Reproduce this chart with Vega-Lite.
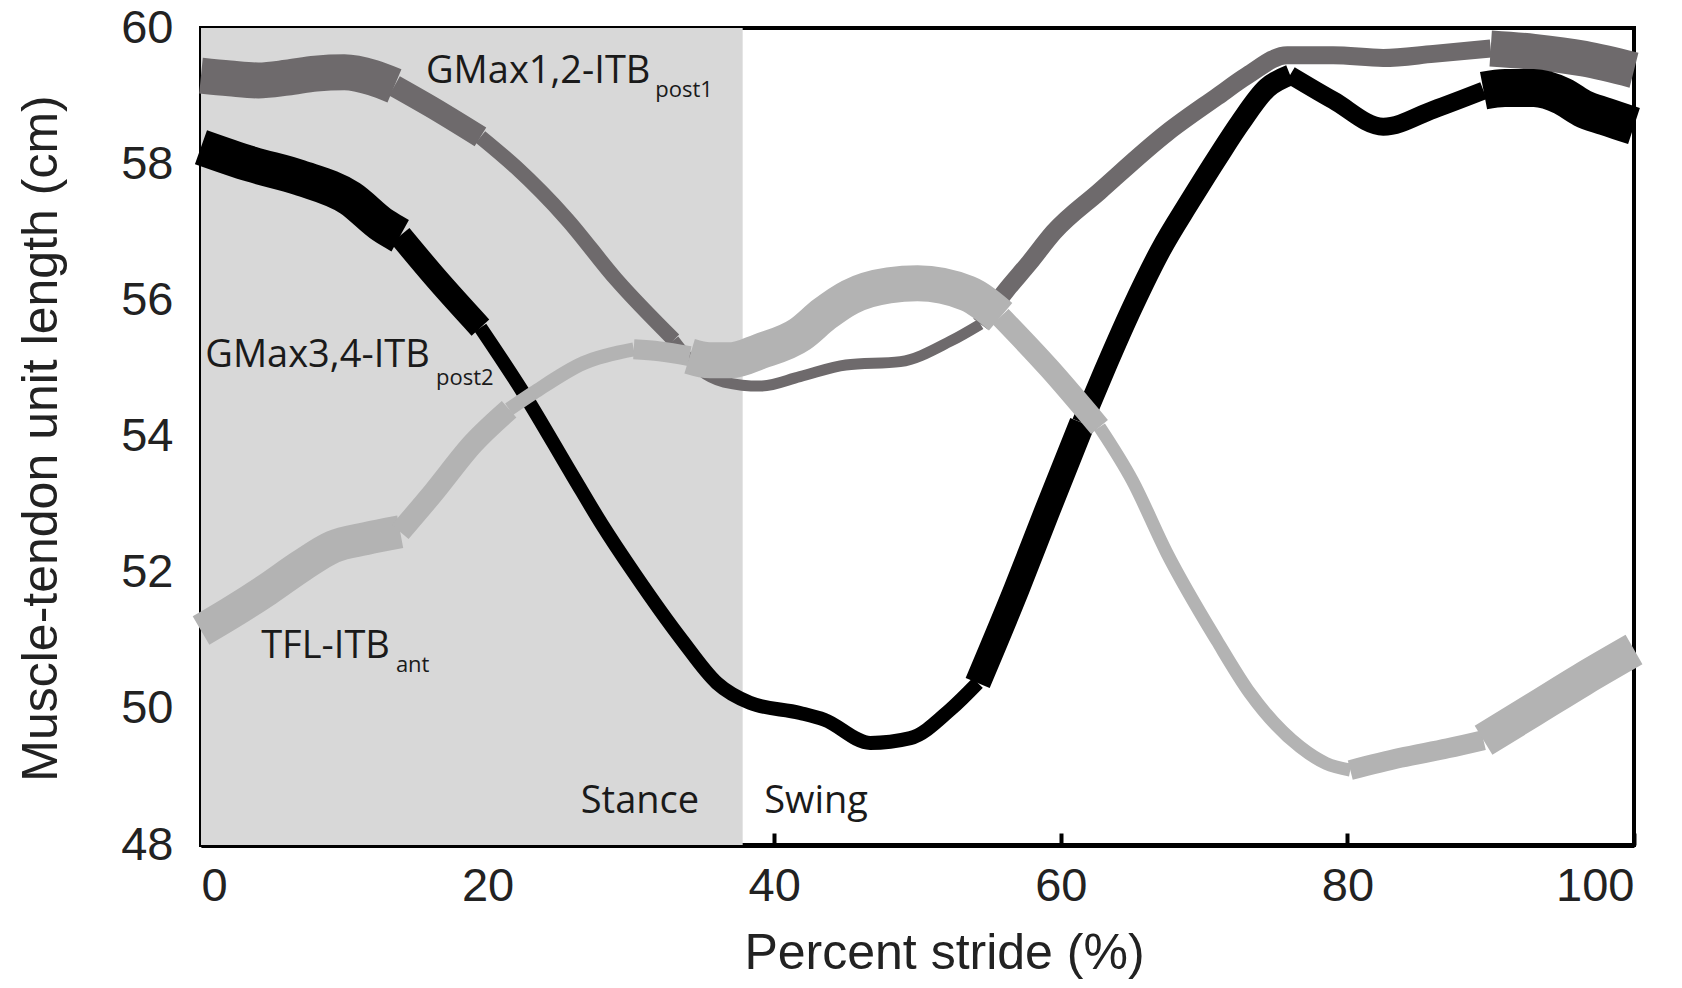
{
  "$schema": "https://vega.github.io/schema/vega-lite/v6.json",
  "autosize": {"type": "none"},
  "width": 1433,
  "height": 817,
  "padding": {"left": 201, "top": 28, "right": 48, "bottom": 143},
  "background": "white",
  "config": {
    "view": {"stroke": "black", "strokeWidth": 4},
    "axis": {
      "grid": false,
      "domainColor": "black",
      "domainWidth": 5,
      "tickColor": "black",
      "tickWidth": 4,
      "tickSize": -12,
      "labelFont": "Liberation Sans",
      "labelFontSize": 47,
      "labelColor": "#222222",
      "titleFont": "Liberation Sans",
      "titleFontSize": 50,
      "titleFontWeight": "normal",
      "titleColor": "#222222"
    }
  },
  "datasets": {
    "shade": [{"x0": 0, "x1": 37.8, "y0": 48, "y1": 60}],
    "A": [
      {"seg": "A1", "x": 0, "y": 59.3, "w": 36},
      {"seg": "A1", "x": 2, "y": 59.26, "w": 36},
      {"seg": "A1", "x": 4, "y": 59.23, "w": 36},
      {"seg": "A1", "x": 6, "y": 59.27, "w": 36},
      {"seg": "A1", "x": 8, "y": 59.33, "w": 36},
      {"seg": "A1", "x": 10, "y": 59.35, "w": 36},
      {"seg": "A1", "x": 12, "y": 59.27, "w": 36},
      {"seg": "A1", "x": 13.5, "y": 59.15, "w": 36},
      {"seg": "A2", "x": 13.5, "y": 59.15, "w": 22},
      {"seg": "A2", "x": 16, "y": 58.85, "w": 22},
      {"seg": "A2", "x": 19.5, "y": 58.4, "w": 22},
      {"seg": "A3", "x": 19.5, "y": 58.4, "w": 15},
      {"seg": "A3", "x": 22, "y": 57.95, "w": 15},
      {"seg": "A3", "x": 25.5, "y": 57.2, "w": 15},
      {"seg": "A3", "x": 29, "y": 56.3, "w": 15},
      {"seg": "A3", "x": 33, "y": 55.42, "w": 15},
      {"seg": "A4", "x": 33, "y": 55.42, "w": 11},
      {"seg": "A4", "x": 34.8, "y": 54.98, "w": 11},
      {"seg": "A4", "x": 36.5, "y": 54.8, "w": 11},
      {"seg": "A4", "x": 39, "y": 54.74, "w": 11},
      {"seg": "A4", "x": 41.8, "y": 54.88, "w": 11},
      {"seg": "A4", "x": 45, "y": 55.05, "w": 11},
      {"seg": "A4", "x": 48.8, "y": 55.1, "w": 11},
      {"seg": "A4", "x": 52.3, "y": 55.4, "w": 11},
      {"seg": "A4", "x": 54.4, "y": 55.65, "w": 11},
      {"seg": "A5", "x": 54.4, "y": 55.65, "w": 18},
      {"seg": "A5", "x": 56.2, "y": 56.15, "w": 18},
      {"seg": "A5", "x": 57.8, "y": 56.55, "w": 18},
      {"seg": "A5", "x": 59.5, "y": 57.0, "w": 18},
      {"seg": "A5", "x": 62.7, "y": 57.6, "w": 18},
      {"seg": "A5", "x": 67.4, "y": 58.46, "w": 18},
      {"seg": "A5", "x": 70.9, "y": 58.99, "w": 18},
      {"seg": "A5", "x": 73, "y": 59.3, "w": 18},
      {"seg": "A5", "x": 75.8, "y": 59.6, "w": 18},
      {"seg": "A5", "x": 79, "y": 59.6, "w": 18},
      {"seg": "A5", "x": 82.5, "y": 59.56, "w": 18},
      {"seg": "A5", "x": 86, "y": 59.62, "w": 18},
      {"seg": "A5", "x": 90, "y": 59.7, "w": 18},
      {"seg": "A6", "x": 90, "y": 59.7, "w": 36},
      {"seg": "A6", "x": 93, "y": 59.65, "w": 36},
      {"seg": "A6", "x": 96.5, "y": 59.55, "w": 36},
      {"seg": "A6", "x": 100, "y": 59.38, "w": 36}
    ],
    "B": [
      {"seg": "B1", "x": 0, "y": 58.25, "w": 36},
      {"seg": "B1", "x": 3.5, "y": 58.0, "w": 36},
      {"seg": "B1", "x": 6.9, "y": 57.8, "w": 36},
      {"seg": "B1", "x": 10.4, "y": 57.5, "w": 36},
      {"seg": "B1", "x": 12.7, "y": 57.1, "w": 36},
      {"seg": "B1", "x": 13.9, "y": 56.95, "w": 36},
      {"seg": "B2", "x": 13.9, "y": 56.95, "w": 24},
      {"seg": "B2", "x": 16.5, "y": 56.3, "w": 24},
      {"seg": "B2", "x": 19.5, "y": 55.6, "w": 24},
      {"seg": "B3", "x": 19.5, "y": 55.6, "w": 14},
      {"seg": "B3", "x": 22.5, "y": 54.64, "w": 14},
      {"seg": "B3", "x": 26, "y": 53.4, "w": 14},
      {"seg": "B3", "x": 28, "y": 52.7, "w": 14},
      {"seg": "B3", "x": 30.2, "y": 52.0, "w": 14},
      {"seg": "B3", "x": 33.6, "y": 51.0, "w": 14},
      {"seg": "B3", "x": 36, "y": 50.38, "w": 14},
      {"seg": "B3", "x": 38.3, "y": 50.09, "w": 14},
      {"seg": "B3", "x": 41.8, "y": 49.94, "w": 14},
      {"seg": "B3", "x": 43.5, "y": 49.84, "w": 14},
      {"seg": "B3", "x": 46.7, "y": 49.5, "w": 14},
      {"seg": "B3", "x": 49.5, "y": 49.57, "w": 14},
      {"seg": "B3", "x": 52.3, "y": 49.99, "w": 14},
      {"seg": "B3", "x": 54.2, "y": 50.38, "w": 14},
      {"seg": "B4", "x": 54.2, "y": 50.38, "w": 26},
      {"seg": "B4", "x": 56.9, "y": 51.75, "w": 26},
      {"seg": "B4", "x": 59, "y": 52.88, "w": 26},
      {"seg": "B4", "x": 61.5, "y": 54.2, "w": 26},
      {"seg": "B5", "x": 61.5, "y": 54.2, "w": 21},
      {"seg": "B5", "x": 63, "y": 54.95, "w": 21},
      {"seg": "B5", "x": 65, "y": 55.9, "w": 21},
      {"seg": "B5", "x": 67, "y": 56.75, "w": 21},
      {"seg": "B5", "x": 69, "y": 57.45, "w": 21},
      {"seg": "B5", "x": 71, "y": 58.12, "w": 21},
      {"seg": "B5", "x": 72.5, "y": 58.6, "w": 21},
      {"seg": "B5", "x": 74.4, "y": 59.12, "w": 21},
      {"seg": "B5", "x": 76, "y": 59.31, "w": 21},
      {"seg": "B6", "x": 76, "y": 59.31, "w": 18},
      {"seg": "B6", "x": 79, "y": 58.94, "w": 18},
      {"seg": "B6", "x": 82.5, "y": 58.55, "w": 18},
      {"seg": "B6", "x": 86, "y": 58.8, "w": 18},
      {"seg": "B6", "x": 89.5, "y": 59.08, "w": 18},
      {"seg": "B7", "x": 89.5, "y": 59.08, "w": 38},
      {"seg": "B7", "x": 91, "y": 59.12, "w": 38},
      {"seg": "B7", "x": 93, "y": 59.12, "w": 38},
      {"seg": "B7", "x": 95, "y": 59.0, "w": 38},
      {"seg": "B7", "x": 96.4, "y": 58.82, "w": 38},
      {"seg": "B7", "x": 98, "y": 58.7, "w": 38},
      {"seg": "B7", "x": 100, "y": 58.56, "w": 38}
    ],
    "C": [
      {"seg": "C1", "x": 0, "y": 51.15, "w": 33},
      {"seg": "C1", "x": 2, "y": 51.4, "w": 33},
      {"seg": "C1", "x": 4.6, "y": 51.75, "w": 33},
      {"seg": "C1", "x": 7, "y": 52.1, "w": 33},
      {"seg": "C1", "x": 9.2, "y": 52.38, "w": 33},
      {"seg": "C1", "x": 11.5, "y": 52.5, "w": 33},
      {"seg": "C1", "x": 13.9, "y": 52.6, "w": 33},
      {"seg": "C2", "x": 13.9, "y": 52.6, "w": 22},
      {"seg": "C2", "x": 16.2, "y": 53.17, "w": 22},
      {"seg": "C2", "x": 19, "y": 53.9, "w": 22},
      {"seg": "C2", "x": 21.5, "y": 54.4, "w": 22},
      {"seg": "C3", "x": 21.5, "y": 54.4, "w": 14},
      {"seg": "C3", "x": 23.2, "y": 54.64, "w": 14},
      {"seg": "C3", "x": 26.7, "y": 55.08, "w": 14},
      {"seg": "C3", "x": 30.2, "y": 55.28, "w": 14},
      {"seg": "C4", "x": 30.2, "y": 55.28, "w": 20},
      {"seg": "C4", "x": 32, "y": 55.25, "w": 20},
      {"seg": "C4", "x": 34.1, "y": 55.18, "w": 20},
      {"seg": "C5", "x": 34.1, "y": 55.18, "w": 36},
      {"seg": "C5", "x": 35.5, "y": 55.12, "w": 36},
      {"seg": "C5", "x": 37, "y": 55.12, "w": 36},
      {"seg": "C5", "x": 39, "y": 55.25, "w": 36},
      {"seg": "C5", "x": 41.8, "y": 55.5, "w": 36},
      {"seg": "C5", "x": 43.5, "y": 55.8, "w": 36},
      {"seg": "C5", "x": 45.3, "y": 56.05, "w": 36},
      {"seg": "C5", "x": 48, "y": 56.22, "w": 36},
      {"seg": "C5", "x": 50, "y": 56.25, "w": 36},
      {"seg": "C5", "x": 53.5, "y": 56.1, "w": 36},
      {"seg": "C5", "x": 55.8, "y": 55.76, "w": 36},
      {"seg": "C6", "x": 55.8, "y": 55.76, "w": 22},
      {"seg": "C6", "x": 59.2, "y": 55.0, "w": 22},
      {"seg": "C6", "x": 62.7, "y": 54.14, "w": 22},
      {"seg": "C7", "x": 62.7, "y": 54.14, "w": 13},
      {"seg": "C7", "x": 65, "y": 53.35, "w": 13},
      {"seg": "C7", "x": 67.4, "y": 52.29, "w": 13},
      {"seg": "C7", "x": 70.9, "y": 51.0, "w": 13},
      {"seg": "C7", "x": 73.2, "y": 50.23, "w": 13},
      {"seg": "C7", "x": 76.7, "y": 49.44, "w": 13},
      {"seg": "C7", "x": 78.5, "y": 49.2, "w": 13},
      {"seg": "C7", "x": 80.2, "y": 49.1, "w": 13},
      {"seg": "C8", "x": 80.2, "y": 49.1, "w": 20},
      {"seg": "C8", "x": 83.7, "y": 49.28, "w": 20},
      {"seg": "C8", "x": 87, "y": 49.42, "w": 20},
      {"seg": "C8", "x": 89.5, "y": 49.54, "w": 20},
      {"seg": "C9", "x": 89.5, "y": 49.54, "w": 34},
      {"seg": "C9", "x": 93, "y": 49.99, "w": 34},
      {"seg": "C9", "x": 96.4, "y": 50.43, "w": 34},
      {"seg": "C9", "x": 100, "y": 50.87, "w": 34}
    ],
    "labels": [
      {"x": 15.7, "y": 59.19, "text": "GMax1,2-ITB"},
      {"x": 0.3, "y": 55.02, "text": "GMax3,4-ITB"},
      {"x": 4.2, "y": 50.75, "text": "TFL-ITB"},
      {"x": 26.5, "y": 48.47, "text": "Stance"},
      {"x": 39.3, "y": 48.47, "text": "Swing"}
    ],
    "subs": [
      {"x": 31.7, "y": 58.99, "text": "post1"},
      {"x": 16.4, "y": 54.76, "text": "post2"},
      {"x": 13.6, "y": 50.54, "text": "ant"}
    ]
  },
  "layer": [
    {
      "data": {"name": "shade"},
      "mark": {"type": "rect", "color": "#d8d8d8"},
      "encoding": {
        "x": {"field": "x0", "type": "quantitative", "scale": {"domain": [0, 100], "nice": false},
          "axis": {"values": [0, 20, 40, 60, 80, 100], "labelPadding": 30, "title": "Percent stride (%)", "titleX": 743, "titleY": 108, "titleBaseline": "middle"}},
        "x2": {"field": "x1"},
        "y": {"field": "y0", "type": "quantitative", "scale": {"domain": [48, 60], "nice": false, "zero": false},
          "axis": {"values": [48, 50, 52, 54, 56, 58, 60], "format": "d", "labelPadding": 40, "title": "Muscle-tendon unit length (cm)", "titleX": -160, "titleY": 410, "titleAngle": 270, "titleAlign": "center", "titleBaseline": "middle"}},
        "y2": {"field": "y1"}
      }
    },
    {
      "data": {"name": "A"},
      "mark": {"type": "line", "color": "#6e6a6c", "interpolate": "monotone", "strokeCap": "butt", "strokeJoin": "round"},
      "encoding": {
        "x": {"field": "x", "type": "quantitative"},
        "y": {"field": "y", "type": "quantitative"},
        "detail": {"field": "seg", "type": "nominal"},
        "strokeWidth": {"field": "w", "type": "quantitative", "scale": null, "legend": null}
      }
    },
    {
      "data": {"name": "B"},
      "mark": {"type": "line", "color": "#000000", "interpolate": "monotone", "strokeCap": "butt", "strokeJoin": "round"},
      "encoding": {
        "x": {"field": "x", "type": "quantitative"},
        "y": {"field": "y", "type": "quantitative"},
        "detail": {"field": "seg", "type": "nominal"},
        "strokeWidth": {"field": "w", "type": "quantitative", "scale": null, "legend": null}
      }
    },
    {
      "data": {"name": "C"},
      "mark": {"type": "line", "color": "#b3b3b3", "interpolate": "monotone", "strokeCap": "butt", "strokeJoin": "round"},
      "encoding": {
        "x": {"field": "x", "type": "quantitative"},
        "y": {"field": "y", "type": "quantitative"},
        "detail": {"field": "seg", "type": "nominal"},
        "strokeWidth": {"field": "w", "type": "quantitative", "scale": null, "legend": null}
      }
    },
    {
      "data": {"name": "labels"},
      "mark": {"type": "text", "align": "left", "baseline": "alphabetic", "font": "Open Sans", "fontSize": 38, "color": "#1a1a1a"},
      "encoding": {
        "x": {"field": "x", "type": "quantitative"},
        "y": {"field": "y", "type": "quantitative"},
        "text": {"field": "text"}
      }
    },
    {
      "data": {"name": "subs"},
      "mark": {"type": "text", "align": "left", "baseline": "alphabetic", "font": "Open Sans", "fontSize": 22, "color": "#1a1a1a"},
      "encoding": {
        "x": {"field": "x", "type": "quantitative"},
        "y": {"field": "y", "type": "quantitative"},
        "text": {"field": "text"}
      }
    }
  ]
}
